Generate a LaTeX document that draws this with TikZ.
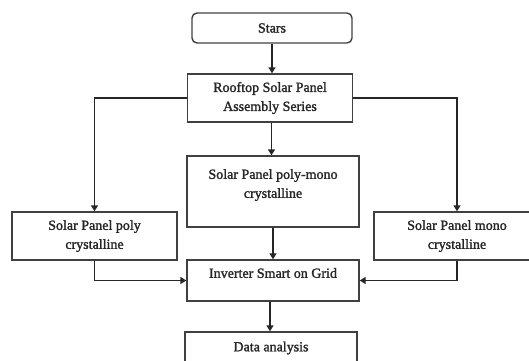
\documentclass[tikz,border=0pt]{standalone}
\usepackage{fontspec}
\setmainfont{Liberation Serif}[FakeBold=1.6]
\usetikzlibrary{arrows.meta}
\tikzset{
  box/.style={draw=black!75, line width=1.4pt, inner sep=0pt, align=center,
    font=\fontsize{14}{19}\selectfont, text=black!85},
  rbox/.style={box, rounded corners=5pt},
  txt/.style={inner sep=0pt, align=center, font=\fontsize{14}{19}\selectfont, text=black!85},
  arr/.style={draw=black!85, line width=1.4pt, -{Triangle[length=6pt,width=7pt]}},
}
\begin{document}
\begin{tikzpicture}[x=1pt,y=-1pt]
\useasboundingbox (0,0) rectangle (529,360);
\clip (0,0) rectangle (529,360);
\node[rbox, minimum width=160pt, minimum height=30pt] (stars) at (272,28) {Stars};
\node[box, minimum width=165pt, minimum height=48pt] (roof) at (270,98) {Rooftop Solar Panel\\Assembly Series};
\node[box, minimum width=172pt, minimum height=71pt] (mid) at (273,191.5) {};
\node[txt] (midtxt) at (273,185) {Solar Panel poly-mono\\crystalline};
\node[box, minimum width=165pt, minimum height=48pt] (left) at (94.5,236) {Solar Panel poly\\crystalline};
\node[box, minimum width=166pt, minimum height=48pt] (right) at (457,236) {Solar Panel mono\\crystalline};
\node[box, minimum width=172pt, minimum height=41pt] (inv) at (273,280.5) {};
\node[txt] (invtxt) at (273,273) {Inverter Smart on Grid};
\node[box, minimum width=172pt, minimum height=32pt] (data) at (271,348) {Data analysis};

\draw[arr] (stars.south) -- (stars.south |- roof.north);
\draw[arr] ([xshift=1.5pt]roof.south) -- ([xshift=1.5pt]roof.south |- mid.north);
\draw[arr] (mid.south) -- (inv.north);
\draw[arr] ([xshift=-3pt]inv.south) -- ([xshift=-3pt]inv.south |- data.north);
\draw[arr] (roof.west) -| (left.north);
\draw[arr] (roof.east) -| (right.north);
\draw[arr] (left.south) |- (inv.west);
\draw[arr] (right.south) |- (inv.east);
\end{tikzpicture}
\end{document}
